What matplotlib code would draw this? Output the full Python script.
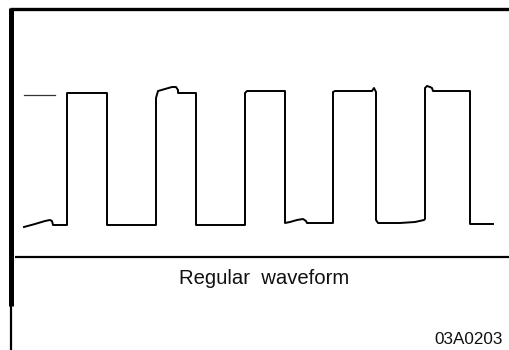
import matplotlib
matplotlib.use("Agg")
import matplotlib.pyplot as plt

# Waveform trace (time, level) (pixel-space units)
trace_t = [24, 35, 45, 50, 52, 53, 67, 67, 107, 107, 156, 156, 158, 165, 172, 176, 178, 178, 196,
           196, 245, 245, 247, 285, 285, 290, 297, 303, 306, 307, 333, 333, 335, 372, 374, 375, 376,
           376, 378, 385, 400, 415, 424, 425, 425, 427, 430, 432, 433, 470, 470, 493]
trace_v = [227, 224, 221, 220, 221, 225, 225, 93, 93, 225, 225, 98, 91, 89, 87, 87, 90, 93, 93,
           225, 225, 93, 91, 91, 223, 222, 220, 219, 221, 223, 223, 92, 91, 91, 88, 90, 92,
           220, 223, 223, 223, 222, 220, 219, 88, 86, 87, 88, 91, 91, 224, 224]
ref_t = [24, 55]
ref_v = [95, 95]

title_text = "Regular  waveform"
code_text = "03A0203"

W, H = 509, 350
fig = plt.figure(figsize=(W / 100, H / 100), dpi=100)
ax = fig.add_axes([0, 0, 1, 1])
ax.set_xlim(0, W)
ax.set_ylim(H, 0)
ax.axis("off")

# frame
ax.plot([10, W], [8.5, 8.5], color="black", lw=2.4, solid_capstyle="butt")
ax.plot([11, 11], [8, 306], color="black", lw=3.6, solid_capstyle="butt")
ax.plot([11.5, 11.5], [306, H], color="black", lw=1.6, solid_capstyle="butt")
ax.plot([15, W], [257, 257], color="black", lw=1.6, solid_capstyle="butt")

# waveform
ax.plot(ref_t, ref_v, color="#333333", lw=0.9)
ax.plot(trace_t, trace_v, color="black", lw=1.4, solid_joinstyle="round")

ax.text(264, 279, title_text, ha="center", va="center", fontsize=14.6,
        family="Liberation Sans", color="#111111")
ax.text(503, 340, code_text, ha="right", va="center", fontsize=12.3,
        family="Liberation Sans", color="#111111")

fig.savefig("out.png", dpi=100)
